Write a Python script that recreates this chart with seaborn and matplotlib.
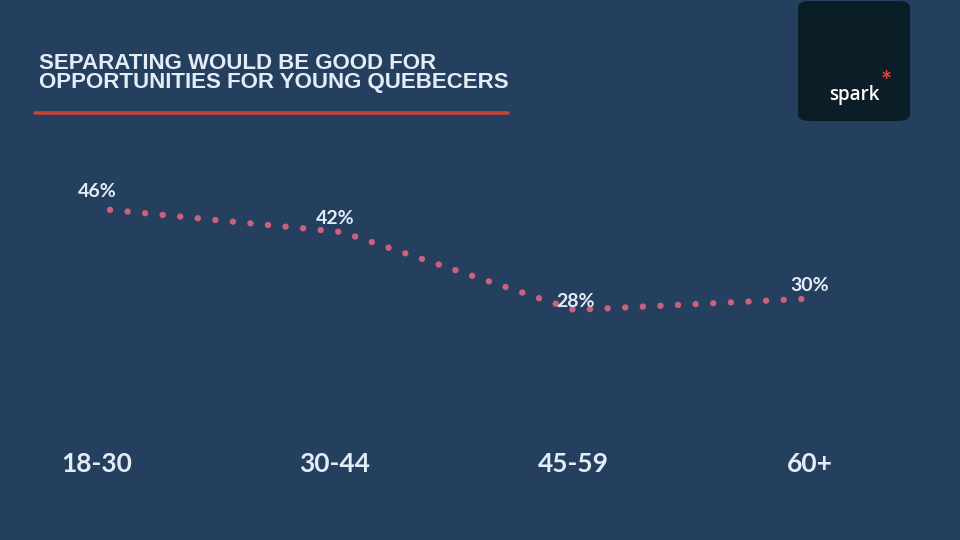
import matplotlib
matplotlib.use("Agg")
import matplotlib.pyplot as plt
import matplotlib.transforms as mtransforms
import seaborn as sns
import pandas as pd
from matplotlib.patches import FancyBboxPatch
from matplotlib.lines import Line2D

categories = ["18-30", "30-44", "45-59", "60+"]
values = [46, 42, 28, 30]
labels = ["46%", "42%", "28%", "30%"]

BG = "#25405f"
TXT = "#e4edf7"
DOT = "#c9627a"
RED = "#c4433a"

sns.set_theme(style="white")
plt.rcParams["font.family"] = ["Lato", "DejaVu Sans"]

df = pd.DataFrame({"pos": range(len(categories)), "value": values})

fig = plt.figure(figsize=(9.6, 5.4), dpi=100, facecolor=BG)
# axes: x 0->110px, 3->806px ; y 10->410px, 60->132px
x0, x3 = 110, 806
step = (x3 - x0) / 3
left = (x0 - 0.1 * step) / 960
width = (step * 3.2) / 960
ax = fig.add_axes([left, 1 - 410 / 540, width, (410 - 132) / 540])
ax.set_facecolor(BG)

sns.lineplot(data=df, x="pos", y="value", ax=ax, color=DOT, linewidth=4.6,
             linestyle=(0, (0.01, 2.75)), dash_capstyle="round")
for ln in ax.lines:
    ln.set_dash_capstyle("round")

ax.set_xlim(-0.1, 3.1)
ax.set_ylim(10, 60)
# label offsets in pixels (dx, dy up)
offsets = [(-13, 18), (-7, 14), (1, 8), (4, 13)]
for i, (v, t) in enumerate(zip(values, labels)):
    dx, dy = offsets[i]
    ax.annotate(t, (i, v), xytext=(dx * 0.72, dy * 0.72), textcoords="offset points",
                ha="center", va="center", color=TXT, fontsize=14, fontweight="bold")

ax.set_xticks(range(len(categories)))
ax.set_xticklabels(categories, fontsize=19, fontweight="bold", color=TXT)
ax.tick_params(axis="x", length=0, pad=30)
tick_dx = [-13, -7, -1, 4]
for lab, dx in zip(ax.get_xticklabels(), tick_dx):
    lab.set_transform(lab.get_transform() +
                      mtransforms.ScaledTranslation(dx / 100, 0, fig.dpi_scale_trans))
ax.set_yticks([])
ax.set_xlabel("")
ax.set_ylabel("")
for s in ax.spines.values():
    s.set_visible(False)

# title
fig.text(39 / 960, 1 - 53 / 540, "SEPARATING WOULD BE GOOD FOR\nOPPORTUNITIES FOR YOUNG QUEBECERS",
         family=["Liberation Sans", "DejaVu Sans"], fontweight="bold", fontsize=16,
         color=TXT, va="top", ha="left", linespacing=0.85)
fig.add_artist(Line2D([35 / 960, 508 / 960], [1 - 113 / 540] * 2, color=RED, linewidth=2.6,
                      transform=fig.transFigure))

# logo
box = FancyBboxPatch((798 / 960, 1 - 121 / 540), 112 / 960, 120 / 540,
                     boxstyle="round,pad=0,rounding_size=0.012", transform=fig.transFigure,
                     facecolor="#0b1d27", edgecolor="none")
fig.add_artist(box)
fig.text(854 / 960, 1 - 95 / 540, "spark", color="white", fontsize=13.5, fontweight="semibold",
         family=["Open Sans", "DejaVu Sans"], ha="center", va="center")
fig.text(886 / 960, 1 - 82 / 540, "*", color="#e0463c", fontsize=19, fontweight="bold",
         ha="center", va="center")

fig.savefig("out.png", dpi=100, facecolor=BG)
